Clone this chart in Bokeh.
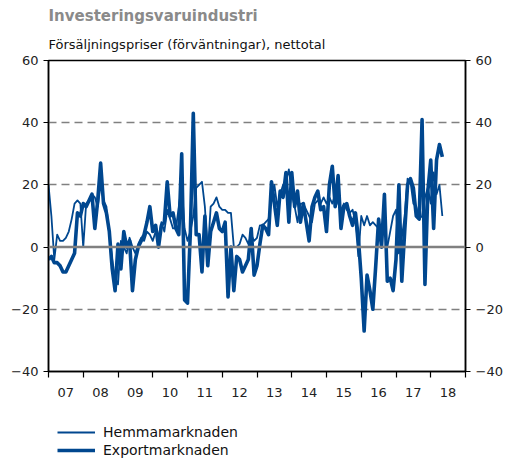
import numpy as np
from bokeh.plotting import figure
from bokeh.layouts import column
from bokeh.models import Range1d, LinearAxis, FixedTicker, Span, Title, Legend, LegendItem
from bokeh.embed import file_html
from bokeh.resources import INLINE

# ---------------- data ----------------
start_year = 2007
hemma = [
    20, 10, -4, 4, 2, 2, 3, 5, 9, 14, 15, 14,        # 2007
    0, 14, 15, 17, 16, 13, 20, 15, 13, 4, -4, -10,   # 2008
    -12, 2, 0, -2, 3, 0, -2, 1, 3, 2, 5, 4,          # 2009
    2, 5, 3, 8, 5, 12, 9, 6, 6, 13, 20, 6,           # 2010
    2, 5, 10, 19, 20, 21, 13, -2, 13, 14, 16, 13,    # 2011
    12, 12, 11, 11, 0, 0, 1, 4, 3, 1, 4, 2,          # 2012
    3, 7, 7, 8, 9, 15, 20, 13, 17, 20, 21, 25,       # 2013
    17, 13, 8, 14, 14, 12, 10, 8, 14, 15, 14, 16,    # 2014
    14, 16, 14, 17, 14, 12, 14, 12, 11, 12, 8, -3,   # 2015
    10, 7, 10, 7, 8, 7, 6, 5, 6, 0, 5, 10,           # 2016
    12, -2, 3, 10, 22, 21, 14, 13, 9, 10, 16, 19,    # 2017
    14, 24, 17, 20, 10,                              # 2018
]
export = [
    -4, -3, -5, -5, -6, -8, -8, -6, -4, -2, 11, 10,      # 2007
    14, 13, 15, 17, 6, 15, 27, 14, 11, 5, -7, -14,       # 2008
    1, -7, 5, 0, 2, -14, -4, 0, 2, 4, 8, 13,             # 2009
    5, 7, 0, 7, 8, 21, 10, 11, 6, 4, 30, -17,            # 2010
    -18, 5, 43, 4, 4, -8, 10, -6, 5, 8, 11, 6,           # 2011
    5, 8, -16, 0, -14, -3, -4, -8, -6, -4, 6, -9,        # 2012
    -6, 1, 7, 6, 4, 21, 14, 7, 18, 16, 24, 8,            # 2013
    24, 13, 18, 8, 14, 8, 2, 13, 16, 18, 12, 13,         # 2014
    5, 20, 26, 13, 23, 6, 13, 14, 10, 7, 11, 3,          # 2015
    -10, -27, -9, -14, -20, -6, 9, 0, 17, -11, -10, -14, # 2016
    -4, 20, -11, 5, 20, 22, 19, 10, 9, 41, -12, 18,      # 2017
    28, 6, 28, 33, 29,                                   # 2018
]
year_labels = ["07", "08", "09", "10", "11", "12", "13", "14", "15", "16", "17", "18"]
y_ticks = [-40, -20, 0, 20, 40, 60]
grid_ticks = [-20, 20, 40]

title_text = "Investeringsvaruindustri"
subtitle_text = "Försäljningspriser (förväntningar), nettotal"
legend_labels = ["Hemmamarknaden", "Exportmarknaden"]

# ---------------- styles ----------------
FONT = "DejaVu Sans"
BLUE = "#00478F"
GRID = "#808080"
TOTAL_W = 501

x = [start_year + i / 12 for i in range(len(hemma))]
n_years = len(year_labels)

p = figure(frame_width=417, frame_height=311,
           x_range=Range1d(start_year, start_year + n_years),
           y_range=Range1d(-40, 60),
           output_backend="svg", toolbar_location=None,
           min_border_left=48, min_border_right=36,
           min_border_top=60, min_border_bottom=35,
           background_fill_color="white", border_fill_color="white")

p.outline_line_color = "black"
p.outline_line_width = 1.5

# grid
p.xgrid.visible = False
p.ygrid.ticker = FixedTicker(ticks=grid_ticks)
p.ygrid.grid_line_color = GRID
p.ygrid.grid_line_dash = "8 5"
p.ygrid.grid_line_width = 1.5
p.add_layout(Span(location=0, dimension="width", line_color=GRID, line_width=2.5))

# y axes
def style_y(ax):
    ax.ticker = FixedTicker(ticks=y_ticks)
    ax.major_tick_out = 5
    ax.major_tick_in = 0
    ax.minor_tick_line_color = None
    ax.axis_line_color = "black"
    ax.axis_line_width = 1.5
    ax.major_tick_line_width = 1.2
    ax.major_label_text_font = FONT
    ax.major_label_text_font_size = "13px"
    ax.major_label_text_color = "#222222"
    ax.major_label_standoff = 5

style_y(p.yaxis[0])
ry = LinearAxis()
style_y(ry)
p.add_layout(ry, "right")

# x axis
mids = [start_year + i + 0.5 for i in range(n_years)]
bounds = [start_year + i for i in range(n_years + 1)]
xa = p.xaxis[0]
xa.ticker = FixedTicker(ticks=mids, minor_ticks=bounds)
xa.major_label_overrides = {m: lab for m, lab in zip(mids, year_labels)}
xa.major_tick_line_color = None
xa.major_tick_out = 0
xa.major_tick_in = 0
xa.minor_tick_out = 6
xa.minor_tick_in = 0
xa.minor_tick_line_color = "black"
xa.minor_tick_line_width = 1.2
xa.axis_line_color = "black"
xa.axis_line_width = 1.5
xa.major_label_text_font = FONT
xa.major_label_text_font_size = "13px"
xa.major_label_text_color = "#222222"
xa.major_label_standoff = 10

# lines
r1 = p.line(x, hemma, line_color=BLUE, line_width=1.8, line_join="round")
r2 = p.line(x, export, line_color=BLUE, line_width=3.6, line_join="round")

# titles (p.title is the outermost one)
p.title.text = title_text
p.title.text_font = FONT
p.title.text_font_size = "15px"
p.title.text_font_style = "bold"
p.title.text_color = "#8a8a8a"
p.title.align = "left"
p.title.standoff = 3
p.add_layout(Title(text=subtitle_text, text_font=FONT, text_font_size="13px",
                   text_font_style="normal", text_color="#111111", align="left",
                   standoff=17), "above")

# ---------------- legend strip below the chart ----------------
# same series drawn again, but outside this strip's visible ranges,
# so that only the legend of this strip shows
lg = figure(width=TOTAL_W, height=52, x_range=Range1d(0, 1), y_range=Range1d(0, 1),
            output_backend="svg", toolbar_location=None, title=None,
            x_axis_location=None, y_axis_location=None,
            min_border=0, outline_line_color=None,
            background_fill_color="white", border_fill_color="white")
lg.xgrid.visible = False
lg.ygrid.visible = False
l1 = lg.line(x, hemma, line_color=BLUE, line_width=1.8)
l2 = lg.line(x, export, line_color=BLUE, line_width=3.6)

legend = Legend(items=[LegendItem(label=legend_labels[0], renderers=[l1]),
                       LegendItem(label=legend_labels[1], renderers=[l2])],
                location=(9, 0), orientation="vertical",
                glyph_width=38, glyph_height=16, label_height=16, spacing=2,
                label_standoff=8, padding=0, margin=0,
                border_line_color=None, background_fill_alpha=0,
                label_text_font=FONT, label_text_font_size="14px",
                label_text_color="#111111")
lg.add_layout(legend, "center")

layout = column(p, lg, spacing=0)
open("out.html", "w").write(file_html(layout, INLINE))
